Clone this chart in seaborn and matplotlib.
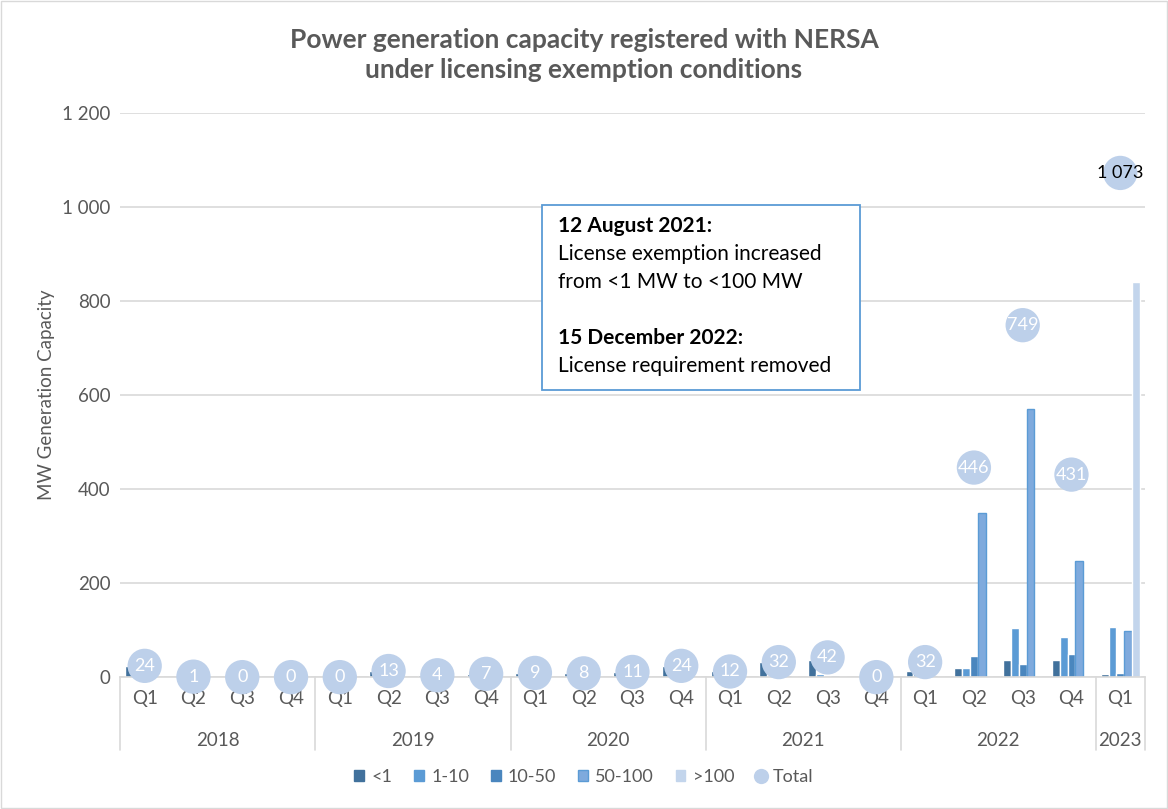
import numpy as np
import pandas as pd
import matplotlib.pyplot as plt
import matplotlib.transforms as mtransforms
from matplotlib.lines import Line2D
from matplotlib.patches import Patch, Rectangle
from matplotlib.ticker import FuncFormatter
import seaborn as sns

# data (MW)
years = ["2018", "2019", "2020", "2021", "2022", "2023"]
quarters_per_year = [4, 4, 4, 4, 4, 1]
quarters = ["Q1", "Q2", "Q3", "Q4"] * 5 + ["Q1"]

lt1 = [24, 1, 0, 0, 0, 13, 4, 7, 9, 8, 11, 24, 12, 32, 36, 0, 14, 19, 36, 36, 6]
r1_10 = [0, 0, 0, 0, 0, 0, 0, 0, 0, 0, 0, 0, 0, 0, 6, 0, 10, 19, 104, 85, 106]
r10_50 = [0, 0, 0, 0, 0, 0, 0, 0, 0, 0, 0, 0, 0, 0, 0, 0, 8, 46, 27, 49, 9]
r50_100 = [0, 0, 0, 0, 0, 0, 0, 0, 0, 0, 0, 0, 0, 0, 0, 0, 0, 350, 571, 248, 99]
gt100 = [0, 0, 0, 0, 0, 0, 0, 0, 0, 0, 0, 0, 0, 0, 0, 0, 0, 0, 0, 0, 840]
totals = [24, 1, 0, 0, 0, 13, 4, 7, 9, 8, 11, 24, 12, 32, 42, 0, 32, 446, 749, 431, 1073]

series = ["<1", "1-10", "10-50", "50-100", ">100"]
colors = ["#41719C", "#5B9BD5", "#4A86BE", "#7FAADD", "#C3D5EC"]
total_color = "#BDD0EA"
grey = "#595959"

n = len(totals)
rows = []
for name, vals in zip(series, [lt1, r1_10, r10_50, r50_100, gt100]):
    for i, v in enumerate(vals):
        rows.append({"idx": i, "band": name, "mw": v})
df = pd.DataFrame(rows)

sns.set_style("white")
plt.rcParams["font.family"] = ["Lato", "DejaVu Sans"]

fig = plt.figure(figsize=(11.68, 8.09), dpi=100)
ax = fig.add_axes([0.103, 0.163, 0.877, 0.697])

sns.barplot(data=df, x="idx", y="mw", hue="band", hue_order=series,
            palette=colors, width=0.8, saturation=1, ax=ax, legend=False)
# outline on the 50-100 bars like the original
for bar in ax.containers[3]:
    bar.set_edgecolor("#5B9BD5")
    bar.set_linewidth(1.0)

sns.scatterplot(x=np.arange(n), y=totals, s=610, color=total_color,
                edgecolor="none", ax=ax, zorder=3, clip_on=False)
for i, t in enumerate(totals):
    label = f"{t:,}".replace(",", " ")
    ax.text(i, t, label, ha="center", va="center", fontsize=13,
            color="black" if t > 1000 else "white", zorder=4)

ax.set_ylim(0, 1200)
ax.set_xlim(-0.5, n - 0.5)
ax.set_yticks(range(0, 1201, 200))
ax.yaxis.set_major_formatter(FuncFormatter(lambda v, p: f"{int(v):,}".replace(",", " ")))
ax.grid(axis="y", color="#D9D9D9", linewidth=1.2)
ax.set_axisbelow(True)
for s in ["left", "right", "top"]:
    ax.spines[s].set_visible(False)
ax.spines["bottom"].set_color("#D9D9D9")
ax.spines["bottom"].set_linewidth(1.2)
ax.tick_params(axis="y", length=0, labelsize=13.5, labelcolor=grey, pad=7)
ax.set_xticks(range(n))
ax.set_xticklabels(quarters)
ax.tick_params(axis="x", length=0, labelsize=13.5, labelcolor=grey, pad=9)
ax.set_xlabel("")
ax.set_ylabel("MW Generation Capacity", fontsize=13.5, color=grey, labelpad=5)

# year grouping under the quarter labels
trans = mtransforms.blended_transform_factory(ax.transData, ax.transAxes)
start = 0
bounds = [-0.5]
for y, k in zip(years, quarters_per_year):
    ax.text(start + (k - 1) / 2, -0.112, y, transform=trans, ha="center",
            va="center", fontsize=13.5, color=grey)
    start += k
    bounds.append(start - 0.5)
for b in bounds:
    ax.add_line(Line2D([b, b], [0, -0.129], transform=trans, color="#D9D9D9",
                       linewidth=1.2, clip_on=False))

fig.text(0.5, 0.932, "Power generation capacity registered with NERSA\nunder licensing exemption conditions",
         ha="center", va="center", fontsize=19, fontweight="bold", color=grey,
         linespacing=1.3)

# annotation box
box = Rectangle((542 / 1168, 1 - 390 / 809), (860 - 542) / 1168, (390 - 205) / 809,
                transform=fig.transFigure, facecolor="white", edgecolor="#5B9BD5",
                linewidth=1.3, zorder=5)
fig.patches.append(box)
tx = 558 / 1168
notes = [("12 August 2021:", "bold", 226),
         ("License exemption increased", "normal", 254),
         ("from <1 MW to <100 MW", "normal", 282),
         ("15 December 2022:", "bold", 338),
         ("License requirement removed", "normal", 366)]
for txt, w, ypix in notes:
    fig.text(tx, 1 - ypix / 809, txt, fontsize=15, fontweight=w, va="center",
             color="black", zorder=6)

handles = [Patch(facecolor=c, edgecolor=("#5B9BD5" if nm == "50-100" else c), label=nm)
           for nm, c in zip(series, colors)]
handles.append(Line2D([], [], marker="o", linestyle="none", markersize=11,
                      markerfacecolor=total_color, markeredgecolor="none", label="Total"))
fig.legend(handles=handles, loc="center", bbox_to_anchor=(0.5, 1 - 777 / 809), ncol=6,
           frameon=False, fontsize=13, handlelength=0.55, handleheight=0.55,
           handletextpad=0.4, columnspacing=1.2, labelcolor=grey)

fig.patches.append(Rectangle((0.001, 0.001), 0.998, 0.998, transform=fig.transFigure,
                             fill=False, edgecolor="#D9D9D9", linewidth=1))

fig.savefig("out.png", dpi=100)
